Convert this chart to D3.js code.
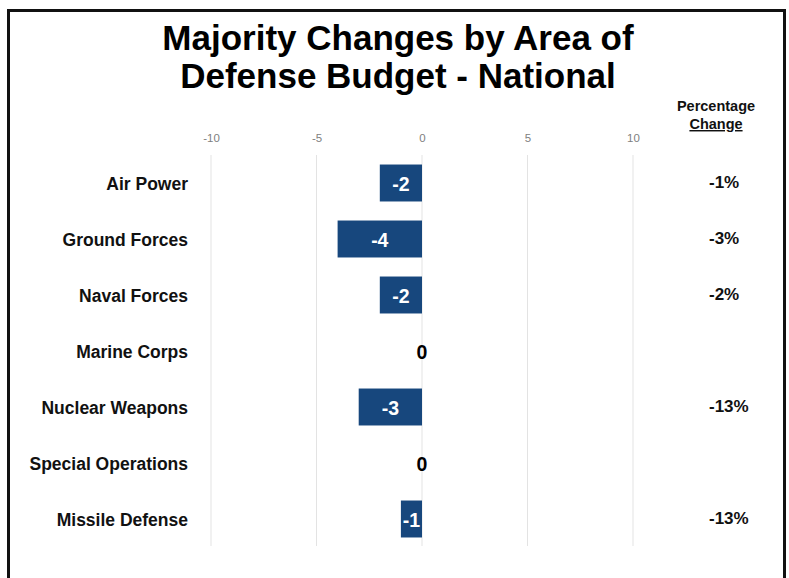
<!DOCTYPE html>
<html>
<head>
<meta charset="utf-8">
<script src="https://cdn.jsdelivr.net/npm/d3@7"></script>
<style>
  html, body { margin: 0; padding: 0; background: #fff; }
  svg { display: block; font-family: "Liberation Sans", Arial, sans-serif; }
</style>
</head>
<body>
<svg id="chart" width="789" height="578"></svg>
<script>
// Budget areas, change in seats and percentage change
const categories = ["Air Power", "Ground Forces", "Naval Forces", "Marine Corps",
                    "Nuclear Weapons", "Special Operations", "Missile Defense"];
const changes = [-2, -4, -2, 0, -3, 0, -1];
const percentChanges = ["-1%", "-3%", "-2%", "", "-13%", "", "-13%"];
const tickValues = [-10, -5, 0, 5, 10];
const titleLines = ["Majority Changes by Area of", "Defense Budget - National"];

const svg = d3.select("#chart");
const barColor = "#17477d";

// Outer frame (open at the bottom)
svg.append("path")
  .attr("d", "M8.5,580 V10.5 H784.5 V580")
  .attr("fill", "none")
  .attr("stroke", "#111")
  .attr("stroke-width", 3);

// Title
svg.append("g").selectAll("text")
  .data(titleLines)
  .join("text")
  .attr("x", 398)
  .attr("y", (d, i) => 50 + i * 38)
  .attr("text-anchor", "middle")
  .attr("font-size", 35)
  .attr("font-weight", "bold")
  .attr("fill", "#000")
  .text(d => d);

const x = d3.scaleLinear().domain([-10, 10]).range([211, 633]);
const y = d3.scaleBand().domain(categories).range([155, 547]).paddingInner(0.34).paddingOuter(0.17);

// Vertical gridlines and tick labels on top
const axis = d3.axisTop(x).tickValues(tickValues).tickSize(0).tickPadding(0)
  .tickFormat(d => String(d));
const gAxis = svg.append("g").attr("transform", "translate(0,142)").call(axis);
gAxis.select(".domain").remove();
gAxis.selectAll("text")
  .attr("font-size", 11.5)
  .attr("fill", "#808080")
  .attr("font-family", "'Liberation Sans', Arial, sans-serif");

svg.append("g").selectAll("line")
  .data(tickValues)
  .join("line")
  .attr("x1", d => x(d)).attr("x2", d => x(d))
  .attr("y1", 155).attr("y2", 546)
  .attr("stroke", "#e3e3e3")
  .attr("stroke-width", 1);

// Category labels
svg.append("g").selectAll("text")
  .data(categories)
  .join("text")
  .attr("x", 188)
  .attr("y", d => y(d) + y.bandwidth() / 2 + 1)
  .attr("dominant-baseline", "central")
  .attr("text-anchor", "end")
  .attr("font-size", 17.5)
  .attr("font-weight", "bold")
  .attr("fill", "#111")
  .text(d => d);

// Bars
const rows = categories.map((c, i) => ({ c, v: changes[i], p: percentChanges[i] }));
svg.append("g").selectAll("rect")
  .data(rows.filter(d => d.v !== 0))
  .join("rect")
  .attr("x", d => x(Math.min(0, d.v)))
  .attr("width", d => Math.abs(x(d.v) - x(0)))
  .attr("y", d => y(d.c))
  .attr("height", y.bandwidth())
  .attr("fill", barColor);

// Value labels
svg.append("g").selectAll("text")
  .data(rows)
  .join("text")
  .attr("x", d => d.v === 0 ? x(0) : (x(d.v) + x(0)) / 2)
  .attr("y", d => y(d.c) + y.bandwidth() / 2 + 1)
  .attr("dominant-baseline", "central")
  .attr("text-anchor", "middle")
  .attr("font-size", 19.5)
  .attr("font-weight", "bold")
  .attr("fill", d => d.v === 0 ? "#000" : "#fff")
  .text(d => d.v);

// Percentage change column
const header = svg.append("g").attr("font-weight", "bold").attr("font-size", 14.5).attr("fill", "#111");
header.append("text").attr("x", 716).attr("y", 111).attr("text-anchor", "middle").text("Percentage");
header.append("text").attr("x", 716).attr("y", 129).attr("text-anchor", "middle")
  .attr("text-decoration", "underline").text("Change");

svg.append("g").selectAll("text")
  .data(rows.filter(d => d.p))
  .join("text")
  .attr("x", 709)
  .attr("y", d => y(d.c) + y.bandwidth() / 2 - 1)
  .attr("dominant-baseline", "central")
  .attr("font-size", 17)
  .attr("font-weight", "bold")
  .attr("fill", "#111")
  .text(d => d.p);
</script>
</body>
</html>
